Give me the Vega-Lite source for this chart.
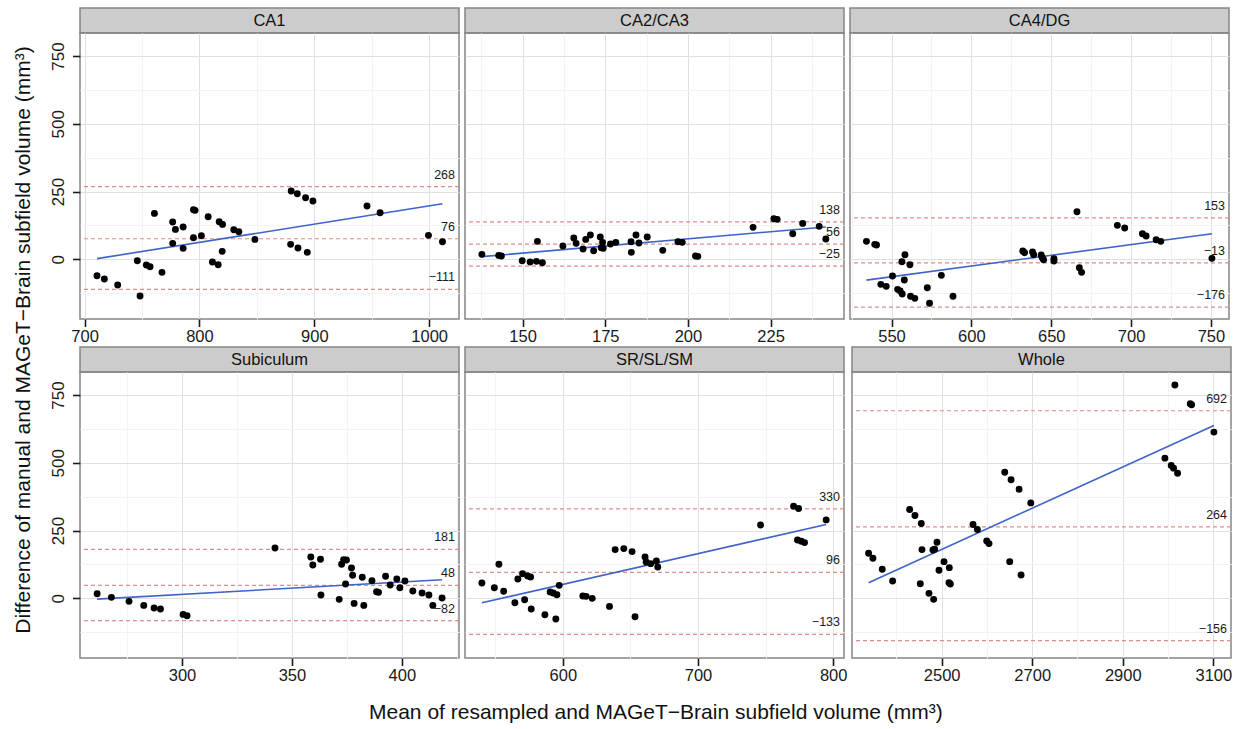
{
  "$schema": "https://vega.github.io/schema/vega-lite/v6.json",
  "background": "white",
  "padding": {"left": 13, "top": 7, "right": 4, "bottom": 0},
  "title": {"text": "Mean of resampled and MAGeT−Brain subfield volume (mm³)", "orient": "bottom", "anchor": "middle", "offset": 17, "dx": 33},
  "vconcat": [
    {
      "title": {"text": "Difference of manual and MAGeT−Brain subfield volume (mm³)", "orient": "left", "anchor": "middle", "offset": 14, "dx": 6},
      "spacing": 0,
      "vconcat": [
        {
          "spacing": 2,
          "hconcat": [
            {
              "spacing": 0, "bounds": "flush",
              "vconcat": [
                {"width": 379, "height": 25, "data": {"name": "panels"}, "transform": [{"filter": "datum.region === 'CA1'"}], "view": {"fill": "#CCCCCC", "stroke": "#858585", "strokeWidth": 1.5}, "mark": {"type": "text", "fontSize": 16.5, "color": "#111"}, "encoding": {"text": {"field": "region", "type": "nominal"}}},
                {
                  "width": 379, "height": 286,
                  "view": {"stroke": "#858585", "strokeWidth": 1.5},
                  "layer": [
                    {"data": {"name": "limits"}, "transform": [{"filter": "datum.region === 'CA1'"}], "mark": {"type": "rule", "color": "#DE8C8C", "strokeDash": [4, 3], "strokeWidth": 1.2}, "encoding": {"y": {"field": "value", "type": "quantitative", "title": null, "scale": {"domain": [-220, 835], "nice": false, "zero": false}}}},
                    {"data": {"name": "limits"}, "transform": [{"filter": "datum.region === 'CA1'"}], "mark": {"type": "text", "align": "right", "baseline": "alphabetic", "dx": -4, "dy": -8, "fontSize": 12.5, "color": "#1a1a1a"}, "encoding": {"x": {"value": "width"}, "y": {"field": "value", "type": "quantitative", "title": null, "scale": {"domain": [-220, 835], "nice": false, "zero": false}}, "text": {"field": "value", "type": "quantitative", "format": "d"}}},
                    {"data": {"name": "ca1"}, "transform": [{"regression": "diff", "on": "mean"}], "mark": {"type": "line", "color": "#3F63C9", "strokeWidth": 1.6}, "encoding": {"x": {"field": "mean", "type": "quantitative", "title": null, "scale": {"domain": [696, 1026], "nice": false, "zero": false}}, "y": {"field": "diff", "type": "quantitative", "title": null, "scale": {"domain": [-220, 835], "nice": false, "zero": false}}}},
                    {"data": {"name": "ca1"}, "mark": {"type": "circle", "size": 48, "color": "black", "opacity": 1}, "encoding": {
                      "x": {"field": "mean", "type": "quantitative", "title": null, "scale": {"domain": [696, 1026], "nice": false, "zero": false}, "axis": {"values": [700, 750, 800, 850, 900, 950, 1000], "format": "d", "labelExpr": "datum.value % 100 === 0 ? datum.label : ''", "tickOpacity": {"condition": {"test": "datum.value % 100 === 0", "value": 1}, "value": 0}, "gridColor": {"condition": {"test": "datum.value % 100 === 0", "value": "#E0E0E0"}, "value": "#F3F3F3"}}},
                      "y": {"field": "diff", "type": "quantitative", "title": null, "scale": {"domain": [-220, 835], "nice": false, "zero": false}, "axis": {"values": [-125, 0, 125, 250, 375, 500, 625, 750], "format": "d", "labelExpr": "datum.value % 250 === 0 ? datum.label : ''", "tickOpacity": {"condition": {"test": "datum.value % 250 === 0", "value": 1}, "value": 0}, "gridColor": {"condition": {"test": "datum.value % 250 === 0", "value": "#E0E0E0"}, "value": "#F3F3F3"}}}
                    }}
                  ]
                }
              ]
            },
            {
              "spacing": 0, "bounds": "flush",
              "vconcat": [
                {"width": 379, "height": 25, "data": {"name": "panels"}, "transform": [{"filter": "datum.region === 'CA2/CA3'"}], "view": {"fill": "#CCCCCC", "stroke": "#858585", "strokeWidth": 1.5}, "mark": {"type": "text", "fontSize": 16.5, "color": "#111"}, "encoding": {"text": {"field": "region", "type": "nominal"}}},
                {
                  "width": 379, "height": 286,
                  "view": {"stroke": "#858585", "strokeWidth": 1.5},
                  "layer": [
                    {"data": {"name": "limits"}, "transform": [{"filter": "datum.region === 'CA2/CA3'"}], "mark": {"type": "rule", "color": "#DE8C8C", "strokeDash": [4, 3], "strokeWidth": 1.2}, "encoding": {"y": {"field": "value", "type": "quantitative", "title": null, "scale": {"domain": [-220, 835], "nice": false, "zero": false}}}},
                    {"data": {"name": "limits"}, "transform": [{"filter": "datum.region === 'CA2/CA3'"}], "mark": {"type": "text", "align": "right", "baseline": "alphabetic", "dx": -4, "dy": -8, "fontSize": 12.5, "color": "#1a1a1a"}, "encoding": {"x": {"value": "width"}, "y": {"field": "value", "type": "quantitative", "title": null, "scale": {"domain": [-220, 835], "nice": false, "zero": false}}, "text": {"field": "value", "type": "quantitative", "format": "d"}}},
                    {"data": {"name": "ca23"}, "transform": [{"regression": "diff", "on": "mean"}], "mark": {"type": "line", "color": "#3F63C9", "strokeWidth": 1.6}, "encoding": {"x": {"field": "mean", "type": "quantitative", "title": null, "scale": {"domain": [132.6, 247.2], "nice": false, "zero": false}}, "y": {"field": "diff", "type": "quantitative", "title": null, "scale": {"domain": [-220, 835], "nice": false, "zero": false}}}},
                    {"data": {"name": "ca23"}, "mark": {"type": "circle", "size": 48, "color": "black", "opacity": 1}, "encoding": {
                      "x": {"field": "mean", "type": "quantitative", "title": null, "scale": {"domain": [132.6, 247.2], "nice": false, "zero": false}, "axis": {"values": [137.5, 150, 162.5, 175, 187.5, 200, 212.5, 225, 237.5], "format": "d", "labelExpr": "datum.value % 25 === 0 ? datum.label : ''", "tickOpacity": {"condition": {"test": "datum.value % 25 === 0", "value": 1}, "value": 0}, "gridColor": {"condition": {"test": "datum.value % 25 === 0", "value": "#E0E0E0"}, "value": "#F3F3F3"}}},
                      "y": {"field": "diff", "type": "quantitative", "title": null, "scale": {"domain": [-220, 835], "nice": false, "zero": false}, "axis": {"values": [-125, 0, 125, 250, 375, 500, 625, 750], "labels": false, "ticks": false, "gridColor": {"condition": {"test": "datum.value % 250 === 0", "value": "#E0E0E0"}, "value": "#F3F3F3"}}}
                    }}
                  ]
                }
              ]
            },
            {
              "spacing": 0, "bounds": "flush",
              "vconcat": [
                {"width": 379, "height": 25, "data": {"name": "panels"}, "transform": [{"filter": "datum.region === 'CA4/DG'"}], "view": {"fill": "#CCCCCC", "stroke": "#858585", "strokeWidth": 1.5}, "mark": {"type": "text", "fontSize": 16.5, "color": "#111"}, "encoding": {"text": {"field": "region", "type": "nominal"}}},
                {
                  "width": 379, "height": 286,
                  "view": {"stroke": "#858585", "strokeWidth": 1.5},
                  "layer": [
                    {"data": {"name": "limits"}, "transform": [{"filter": "datum.region === 'CA4/DG'"}], "mark": {"type": "rule", "color": "#DE8C8C", "strokeDash": [4, 3], "strokeWidth": 1.2}, "encoding": {"y": {"field": "value", "type": "quantitative", "title": null, "scale": {"domain": [-220, 835], "nice": false, "zero": false}}}},
                    {"data": {"name": "limits"}, "transform": [{"filter": "datum.region === 'CA4/DG'"}], "mark": {"type": "text", "align": "right", "baseline": "alphabetic", "dx": -4, "dy": -8, "fontSize": 12.5, "color": "#1a1a1a"}, "encoding": {"x": {"value": "width"}, "y": {"field": "value", "type": "quantitative", "title": null, "scale": {"domain": [-220, 835], "nice": false, "zero": false}}, "text": {"field": "value", "type": "quantitative", "format": "d"}}},
                    {"data": {"name": "ca4"}, "transform": [{"regression": "diff", "on": "mean"}], "mark": {"type": "line", "color": "#3F63C9", "strokeWidth": 1.6}, "encoding": {"x": {"field": "mean", "type": "quantitative", "title": null, "scale": {"domain": [524, 761.3], "nice": false, "zero": false}}, "y": {"field": "diff", "type": "quantitative", "title": null, "scale": {"domain": [-220, 835], "nice": false, "zero": false}}}},
                    {"data": {"name": "ca4"}, "mark": {"type": "circle", "size": 48, "color": "black", "opacity": 1}, "encoding": {
                      "x": {"field": "mean", "type": "quantitative", "title": null, "scale": {"domain": [524, 761.3], "nice": false, "zero": false}, "axis": {"values": [525, 550, 575, 600, 625, 650, 675, 700, 725, 750], "format": "d", "labelExpr": "datum.value % 50 === 0 ? datum.label : ''", "tickOpacity": {"condition": {"test": "datum.value % 50 === 0", "value": 1}, "value": 0}, "gridColor": {"condition": {"test": "datum.value % 50 === 0", "value": "#E0E0E0"}, "value": "#F3F3F3"}}},
                      "y": {"field": "diff", "type": "quantitative", "title": null, "scale": {"domain": [-220, 835], "nice": false, "zero": false}, "axis": {"values": [-125, 0, 125, 250, 375, 500, 625, 750], "labels": false, "ticks": false, "gridColor": {"condition": {"test": "datum.value % 250 === 0", "value": "#E0E0E0"}, "value": "#F3F3F3"}}}
                    }}
                  ]
                }
              ]
            }
          ]
        },
        {
          "spacing": 2,
          "hconcat": [
            {
              "spacing": 0, "bounds": "flush",
              "vconcat": [
                {"width": 379, "height": 25, "data": {"name": "panels"}, "transform": [{"filter": "datum.region === 'Subiculum'"}], "view": {"fill": "#CCCCCC", "stroke": "#858585", "strokeWidth": 1.5}, "mark": {"type": "text", "fontSize": 16.5, "color": "#111"}, "encoding": {"text": {"field": "region", "type": "nominal"}}},
                {
                  "width": 379, "height": 286,
                  "view": {"stroke": "#858585", "strokeWidth": 1.5},
                  "layer": [
                    {"data": {"name": "limits"}, "transform": [{"filter": "datum.region === 'Subiculum'"}], "mark": {"type": "rule", "color": "#DE8C8C", "strokeDash": [4, 3], "strokeWidth": 1.2}, "encoding": {"y": {"field": "value", "type": "quantitative", "title": null, "scale": {"domain": [-220, 835], "nice": false, "zero": false}}}},
                    {"data": {"name": "limits"}, "transform": [{"filter": "datum.region === 'Subiculum'"}], "mark": {"type": "text", "align": "right", "baseline": "alphabetic", "dx": -4, "dy": -8, "fontSize": 12.5, "color": "#1a1a1a"}, "encoding": {"x": {"value": "width"}, "y": {"field": "value", "type": "quantitative", "title": null, "scale": {"domain": [-220, 835], "nice": false, "zero": false}}, "text": {"field": "value", "type": "quantitative", "format": "d"}}},
                    {"data": {"name": "sub"}, "transform": [{"regression": "diff", "on": "mean"}], "mark": {"type": "line", "color": "#3F63C9", "strokeWidth": 1.6}, "encoding": {"x": {"field": "mean", "type": "quantitative", "title": null, "scale": {"domain": [253.6, 426], "nice": false, "zero": false}}, "y": {"field": "diff", "type": "quantitative", "title": null, "scale": {"domain": [-220, 835], "nice": false, "zero": false}}}},
                    {"data": {"name": "sub"}, "mark": {"type": "circle", "size": 48, "color": "black", "opacity": 1}, "encoding": {
                      "x": {"field": "mean", "type": "quantitative", "title": null, "scale": {"domain": [253.6, 426], "nice": false, "zero": false}, "axis": {"values": [275, 300, 325, 350, 375, 400, 425], "format": "d", "labelExpr": "datum.value % 50 === 0 ? datum.label : ''", "tickOpacity": {"condition": {"test": "datum.value % 50 === 0", "value": 1}, "value": 0}, "gridColor": {"condition": {"test": "datum.value % 50 === 0", "value": "#E0E0E0"}, "value": "#F3F3F3"}}},
                      "y": {"field": "diff", "type": "quantitative", "title": null, "scale": {"domain": [-220, 835], "nice": false, "zero": false}, "axis": {"values": [-125, 0, 125, 250, 375, 500, 625, 750], "format": "d", "labelExpr": "datum.value % 250 === 0 ? datum.label : ''", "tickOpacity": {"condition": {"test": "datum.value % 250 === 0", "value": 1}, "value": 0}, "gridColor": {"condition": {"test": "datum.value % 250 === 0", "value": "#E0E0E0"}, "value": "#F3F3F3"}}}
                    }}
                  ]
                }
              ]
            },
            {
              "spacing": 0, "bounds": "flush",
              "vconcat": [
                {"width": 379, "height": 25, "data": {"name": "panels"}, "transform": [{"filter": "datum.region === 'SR/SL/SM'"}], "view": {"fill": "#CCCCCC", "stroke": "#858585", "strokeWidth": 1.5}, "mark": {"type": "text", "fontSize": 16.5, "color": "#111"}, "encoding": {"text": {"field": "region", "type": "nominal"}}},
                {
                  "width": 379, "height": 286,
                  "view": {"stroke": "#858585", "strokeWidth": 1.5},
                  "layer": [
                    {"data": {"name": "limits"}, "transform": [{"filter": "datum.region === 'SR/SL/SM'"}], "mark": {"type": "rule", "color": "#DE8C8C", "strokeDash": [4, 3], "strokeWidth": 1.2}, "encoding": {"y": {"field": "value", "type": "quantitative", "title": null, "scale": {"domain": [-220, 835], "nice": false, "zero": false}}}},
                    {"data": {"name": "limits"}, "transform": [{"filter": "datum.region === 'SR/SL/SM'"}], "mark": {"type": "text", "align": "right", "baseline": "alphabetic", "dx": -4, "dy": -8, "fontSize": 12.5, "color": "#1a1a1a"}, "encoding": {"x": {"value": "width"}, "y": {"field": "value", "type": "quantitative", "title": null, "scale": {"domain": [-220, 835], "nice": false, "zero": false}}, "text": {"field": "value", "type": "quantitative", "format": "d"}}},
                    {"data": {"name": "srslsm"}, "transform": [{"regression": "diff", "on": "mean"}], "mark": {"type": "line", "color": "#3F63C9", "strokeWidth": 1.6}, "encoding": {"x": {"field": "mean", "type": "quantitative", "title": null, "scale": {"domain": [527.6, 808], "nice": false, "zero": false}}, "y": {"field": "diff", "type": "quantitative", "title": null, "scale": {"domain": [-220, 835], "nice": false, "zero": false}}}},
                    {"data": {"name": "srslsm"}, "mark": {"type": "circle", "size": 48, "color": "black", "opacity": 1}, "encoding": {
                      "x": {"field": "mean", "type": "quantitative", "title": null, "scale": {"domain": [527.6, 808], "nice": false, "zero": false}, "axis": {"values": [550, 600, 650, 700, 750, 800], "format": "d", "labelExpr": "datum.value % 100 === 0 ? datum.label : ''", "tickOpacity": {"condition": {"test": "datum.value % 100 === 0", "value": 1}, "value": 0}, "gridColor": {"condition": {"test": "datum.value % 100 === 0", "value": "#E0E0E0"}, "value": "#F3F3F3"}}},
                      "y": {"field": "diff", "type": "quantitative", "title": null, "scale": {"domain": [-220, 835], "nice": false, "zero": false}, "axis": {"values": [-125, 0, 125, 250, 375, 500, 625, 750], "labels": false, "ticks": false, "gridColor": {"condition": {"test": "datum.value % 250 === 0", "value": "#E0E0E0"}, "value": "#F3F3F3"}}}
                    }}
                  ]
                }
              ]
            },
            {
              "spacing": 0, "bounds": "flush",
              "vconcat": [
                {"width": 379, "height": 25, "data": {"name": "panels"}, "transform": [{"filter": "datum.region === 'Whole'"}], "view": {"fill": "#CCCCCC", "stroke": "#858585", "strokeWidth": 1.5}, "mark": {"type": "text", "fontSize": 16.5, "color": "#111"}, "encoding": {"text": {"field": "region", "type": "nominal"}}},
                {
                  "width": 379, "height": 286,
                  "view": {"stroke": "#858585", "strokeWidth": 1.5},
                  "layer": [
                    {"data": {"name": "limits"}, "transform": [{"filter": "datum.region === 'Whole'"}], "mark": {"type": "rule", "color": "#DE8C8C", "strokeDash": [4, 3], "strokeWidth": 1.2}, "encoding": {"y": {"field": "value", "type": "quantitative", "title": null, "scale": {"domain": [-220, 835], "nice": false, "zero": false}}}},
                    {"data": {"name": "limits"}, "transform": [{"filter": "datum.region === 'Whole'"}], "mark": {"type": "text", "align": "right", "baseline": "alphabetic", "dx": -4, "dy": -8, "fontSize": 12.5, "color": "#1a1a1a"}, "encoding": {"x": {"value": "width"}, "y": {"field": "value", "type": "quantitative", "title": null, "scale": {"domain": [-220, 835], "nice": false, "zero": false}}, "text": {"field": "value", "type": "quantitative", "format": "d"}}},
                    {"data": {"name": "whole"}, "transform": [{"regression": "diff", "on": "mean"}], "mark": {"type": "line", "color": "#3F63C9", "strokeWidth": 1.6}, "encoding": {"x": {"field": "mean", "type": "quantitative", "title": null, "scale": {"domain": [2302, 3139], "nice": false, "zero": false}}, "y": {"field": "diff", "type": "quantitative", "title": null, "scale": {"domain": [-220, 835], "nice": false, "zero": false}}}},
                    {"data": {"name": "whole"}, "mark": {"type": "circle", "size": 48, "color": "black", "opacity": 1}, "encoding": {
                      "x": {"field": "mean", "type": "quantitative", "title": null, "scale": {"domain": [2302, 3139], "nice": false, "zero": false}, "axis": {"values": [2400, 2500, 2600, 2700, 2800, 2900, 3000, 3100], "format": "d", "labelExpr": "datum.value % 200 === 100 ? datum.label : ''", "tickOpacity": {"condition": {"test": "datum.value % 200 === 100", "value": 1}, "value": 0}, "gridColor": {"condition": {"test": "datum.value % 200 === 100", "value": "#E0E0E0"}, "value": "#F3F3F3"}}},
                      "y": {"field": "diff", "type": "quantitative", "title": null, "scale": {"domain": [-220, 835], "nice": false, "zero": false}, "axis": {"values": [-125, 0, 125, 250, 375, 500, 625, 750], "labels": false, "ticks": false, "gridColor": {"condition": {"test": "datum.value % 250 === 0", "value": "#E0E0E0"}, "value": "#F3F3F3"}}}
                    }}
                  ]
                }
              ]
            }
          ]
        }
      ]
    }
  ],
  "datasets": {
    "panels": [
      {"region": "CA1"}, {"region": "CA2/CA3"}, {"region": "CA4/DG"},
      {"region": "Subiculum"}, {"region": "SR/SL/SM"}, {"region": "Whole"}
    ],
    "limits": [
      {"region": "CA1", "value": 268}, {"region": "CA1", "value": 76}, {"region": "CA1", "value": -111},
      {"region": "CA2/CA3", "value": 138}, {"region": "CA2/CA3", "value": 56}, {"region": "CA2/CA3", "value": -25},
      {"region": "CA4/DG", "value": 153}, {"region": "CA4/DG", "value": -13}, {"region": "CA4/DG", "value": -176},
      {"region": "Subiculum", "value": 181}, {"region": "Subiculum", "value": 48}, {"region": "Subiculum", "value": -82},
      {"region": "SR/SL/SM", "value": 330}, {"region": "SR/SL/SM", "value": 96}, {"region": "SR/SL/SM", "value": -133},
      {"region": "Whole", "value": 692}, {"region": "Whole", "value": 264}, {"region": "Whole", "value": -156}
    ],
    "ca1": [
      {"mean": 710.8, "diff": -60.2}, {"mean": 717.2, "diff": -72.5}, {"mean": 728.8, "diff": -94.6}, {"mean": 745.9, "diff": -4.9},
      {"mean": 748.3, "diff": -135}, {"mean": 753.8, "diff": -20.9}, {"mean": 757, "diff": -27}, {"mean": 760.8, "diff": 169.6},
      {"mean": 767.4, "diff": -48}, {"mean": 776.7, "diff": 137.7}, {"mean": 779.1, "diff": 110.6}, {"mean": 776.7, "diff": 59},
      {"mean": 785.8, "diff": 119.2}, {"mean": 785.8, "diff": 40.6}, {"mean": 794.8, "diff": 183}, {"mean": 796.2, "diff": 180.7},
      {"mean": 794.8, "diff": 79.9}, {"mean": 801.7, "diff": 87.3}, {"mean": 807.6, "diff": 157.3}, {"mean": 811.3, "diff": -9.8},
      {"mean": 816.3, "diff": -19.7}, {"mean": 817.2, "diff": 138.9}, {"mean": 820.1, "diff": 129}, {"mean": 819.8, "diff": 29.5},
      {"mean": 829.9, "diff": 109.4}, {"mean": 834.3, "diff": 102}, {"mean": 848.3, "diff": 73.7}, {"mean": 879.9, "diff": 252},
      {"mean": 885.2, "diff": 242.1}, {"mean": 892.4, "diff": 227.4}, {"mean": 898.8, "diff": 215.1}, {"mean": 879.4, "diff": 55.3},
      {"mean": 885.8, "diff": 41.8}, {"mean": 893.9, "diff": 25.8}, {"mean": 945.9, "diff": 196.7}, {"mean": 957.3, "diff": 172.1},
      {"mean": 999.4, "diff": 88.5}, {"mean": 1011.6, "diff": 65.1}
    ],
    "ca23": [
      {"mean": 137.7, "diff": 18.4}, {"mean": 142.8, "diff": 14.7}, {"mean": 143.6, "diff": 12.3}, {"mean": 149.9, "diff": -4.9},
      {"mean": 152.3, "diff": -9.8}, {"mean": 154.2, "diff": -7.4}, {"mean": 156, "diff": -12.3}, {"mean": 154.5, "diff": 66.4},
      {"mean": 162.2, "diff": 49.2}, {"mean": 165.5, "diff": 78.7}, {"mean": 166.2, "diff": 59}, {"mean": 168.3, "diff": 38.1},
      {"mean": 169.1, "diff": 73.7}, {"mean": 170.5, "diff": 89.7}, {"mean": 171.5, "diff": 32}, {"mean": 173.5, "diff": 82.3},
      {"mean": 174.2, "diff": 62.7}, {"mean": 173.8, "diff": 43}, {"mean": 174.4, "diff": 40.6}, {"mean": 176.6, "diff": 56.5},
      {"mean": 178.2, "diff": 62.7}, {"mean": 182.8, "diff": 65.1}, {"mean": 182.9, "diff": 25.8}, {"mean": 184.3, "diff": 89.7},
      {"mean": 185.2, "diff": 60.2}, {"mean": 187.7, "diff": 82.3}, {"mean": 192.4, "diff": 33.2}, {"mean": 197, "diff": 65.1},
      {"mean": 198.3, "diff": 62.7}, {"mean": 202.3, "diff": 12.3}, {"mean": 203, "diff": 11.1}, {"mean": 219.7, "diff": 118},
      {"mean": 226, "diff": 150}, {"mean": 227, "diff": 147.5}, {"mean": 234.7, "diff": 132.7}, {"mean": 231.7, "diff": 94.6},
      {"mean": 239.7, "diff": 121.7}, {"mean": 241.7, "diff": 75}
    ],
    "ca4": [
      {"mean": 534.3, "diff": 66.4}, {"mean": 539.5, "diff": 55.3}, {"mean": 540.6, "diff": 52.9}, {"mean": 543.3, "diff": -92.2},
      {"mean": 546.7, "diff": -99.6}, {"mean": 550.6, "diff": -61.5}, {"mean": 553.8, "diff": -110.6}, {"mean": 555.4, "diff": -116.8},
      {"mean": 556.7, "diff": -127.8}, {"mean": 556.5, "diff": -8.6}, {"mean": 558.4, "diff": 17.2}, {"mean": 561.5, "diff": -19.7},
      {"mean": 558, "diff": -76.2}, {"mean": 561.9, "diff": -136.4}, {"mean": 564.6, "diff": -143.8}, {"mean": 572.4, "diff": -104.5},
      {"mean": 573.8, "diff": -162.2}, {"mean": 581.2, "diff": -59}, {"mean": 588.5, "diff": -136.4}, {"mean": 632.2, "diff": 30.7},
      {"mean": 633.3, "diff": 24.6}, {"mean": 638.3, "diff": 27}, {"mean": 639, "diff": 17.2}, {"mean": 643.7, "diff": 16},
      {"mean": 644.4, "diff": 6.1}, {"mean": 645.2, "diff": -1.2}, {"mean": 651.7, "diff": 2.5}, {"mean": 651.7, "diff": -6.1},
      {"mean": 666.1, "diff": 175.8}, {"mean": 667.6, "diff": -30.7}, {"mean": 669, "diff": -47.9}, {"mean": 691.4, "diff": 125.4},
      {"mean": 696, "diff": 115.5}, {"mean": 707.1, "diff": 94.6}, {"mean": 709.4, "diff": 86}, {"mean": 715.7, "diff": 72.5},
      {"mean": 718.6, "diff": 66.4}, {"mean": 750.6, "diff": 3.7}
    ],
    "sub": [
      {"mean": 261.4, "diff": 17.2}, {"mean": 267.9, "diff": 3.7}, {"mean": 275.9, "diff": -11.1}, {"mean": 282.6, "diff": -25.9},
      {"mean": 287.3, "diff": -35.7}, {"mean": 290.2, "diff": -39.4}, {"mean": 300.5, "diff": -59.1}, {"mean": 302.3, "diff": -64},
      {"mean": 342.3, "diff": 186}, {"mean": 358.6, "diff": 152.7}, {"mean": 359.5, "diff": 123.2}, {"mean": 363, "diff": 144.1},
      {"mean": 363.2, "diff": 12.3}, {"mean": 371.5, "diff": -3.7}, {"mean": 372.6, "diff": 125.6}, {"mean": 373.5, "diff": 142.9},
      {"mean": 374.8, "diff": 141.6}, {"mean": 374.4, "diff": 53}, {"mean": 377.1, "diff": 112.1}, {"mean": 377.6, "diff": 85},
      {"mean": 378.3, "diff": -18.5}, {"mean": 382, "diff": 77.6}, {"mean": 382.7, "diff": -25.9}, {"mean": 386.4, "diff": 65.3},
      {"mean": 388.5, "diff": 24.6}, {"mean": 389.4, "diff": 22.2}, {"mean": 392.6, "diff": 81.3}, {"mean": 394.7, "diff": 49.3},
      {"mean": 397.7, "diff": 71.4}, {"mean": 399.1, "diff": 39.4}, {"mean": 401.4, "diff": 64}, {"mean": 405, "diff": 27.1},
      {"mean": 409.2, "diff": 19.7}, {"mean": 412.3, "diff": 12.3}, {"mean": 414.1, "diff": -25.9}, {"mean": 418.3, "diff": 1.2}
    ],
    "srslsm": [
      {"mean": 540.1, "diff": 56.7}, {"mean": 549.3, "diff": 39.4}, {"mean": 552.7, "diff": 125.6}, {"mean": 556.2, "diff": 25.9},
      {"mean": 564.5, "diff": -16}, {"mean": 566.7, "diff": 71.4}, {"mean": 570.2, "diff": 91.1}, {"mean": 573.9, "diff": 82.5},
      {"mean": 576.1, "diff": 78.8}, {"mean": 571.7, "diff": -4.9}, {"mean": 576.6, "diff": -39.4}, {"mean": 586.7, "diff": -60.3},
      {"mean": 590.6, "diff": 23.4}, {"mean": 592.9, "diff": 19.7}, {"mean": 595.6, "diff": 13.5}, {"mean": 597.3, "diff": 48},
      {"mean": 594.8, "diff": -76.4}, {"mean": 614.8, "diff": 8.6}, {"mean": 617.2, "diff": 7.4}, {"mean": 621.7, "diff": 0},
      {"mean": 634.5, "diff": -29.6}, {"mean": 653.4, "diff": -67.7}, {"mean": 638.7, "diff": 179.8}, {"mean": 645.1, "diff": 183.5},
      {"mean": 651.2, "diff": 172.4}, {"mean": 660.8, "diff": 152.7}, {"mean": 661.6, "diff": 134.2}, {"mean": 665, "diff": 128.1},
      {"mean": 669.2, "diff": 137.9}, {"mean": 670.2, "diff": 115.8}, {"mean": 746.3, "diff": 270.9}, {"mean": 770.7, "diff": 339.9},
      {"mean": 774.4, "diff": 331.3}, {"mean": 773.6, "diff": 215.5}, {"mean": 776.4, "diff": 210.6}, {"mean": 778.8, "diff": 205.7},
      {"mean": 794.8, "diff": 289.4}
    ],
    "whole": [
      {"mean": 2338.6, "diff": 166.3}, {"mean": 2348.2, "diff": 147.8}, {"mean": 2368.8, "diff": 107.1}, {"mean": 2391.7, "diff": 64},
      {"mean": 2429.3, "diff": 327.6}, {"mean": 2441, "diff": 305.4}, {"mean": 2455, "diff": 275.9}, {"mean": 2456.5, "diff": 179.8},
      {"mean": 2452.8, "diff": 54.2}, {"mean": 2472, "diff": 18.5}, {"mean": 2482.3, "diff": -3.7}, {"mean": 2480.8, "diff": 178.6},
      {"mean": 2484.5, "diff": 181}, {"mean": 2489.7, "diff": 206.9}, {"mean": 2494.1, "diff": 103.4}, {"mean": 2505.2, "diff": 135.5},
      {"mean": 2516.9, "diff": 113.3}, {"mean": 2516.2, "diff": 57.9}, {"mean": 2519.2, "diff": 53}, {"mean": 2569.3, "diff": 272.2},
      {"mean": 2578.9, "diff": 253.7}, {"mean": 2599.5, "diff": 211.8}, {"mean": 2604.6, "diff": 202}, {"mean": 2639.3, "diff": 465.5},
      {"mean": 2653.3, "diff": 437.2}, {"mean": 2671, "diff": 402.7}, {"mean": 2696.8, "diff": 352.2}, {"mean": 2650.3, "diff": 135.5},
      {"mean": 2675.4, "diff": 86.2}, {"mean": 2993, "diff": 517.2}, {"mean": 3007, "diff": 490.1}, {"mean": 3012.2, "diff": 480.3},
      {"mean": 3021, "diff": 461.8}, {"mean": 3015.1, "diff": 786.9}, {"mean": 3049, "diff": 718}, {"mean": 3052, "diff": 714.3},
      {"mean": 3101.3, "diff": 613.3}
    ]
  },
  "config": {
    "font": "Liberation Sans",
    "view": {"stroke": null},
    "axis": {"domain": false, "labelColor": "#1a1a1a", "tickColor": "#1a1a1a", "tickWidth": 1.6, "labelFlush": false, "labelOverlap": false, "gridWidth": 1},
    "axisX": {"tickSize": 7.5, "labelPadding": 2, "labelFontSize": 16.5},
    "axisY": {"tickSize": 7.5, "labelPadding": 9.5, "labelFontSize": 17, "labelAngle": 270, "labelAlign": "center", "labelBaseline": "alphabetic"},
    "title": {"font": "Liberation Sans", "fontWeight": "normal", "fontSize": 21, "color": "#111"}
  }
}
